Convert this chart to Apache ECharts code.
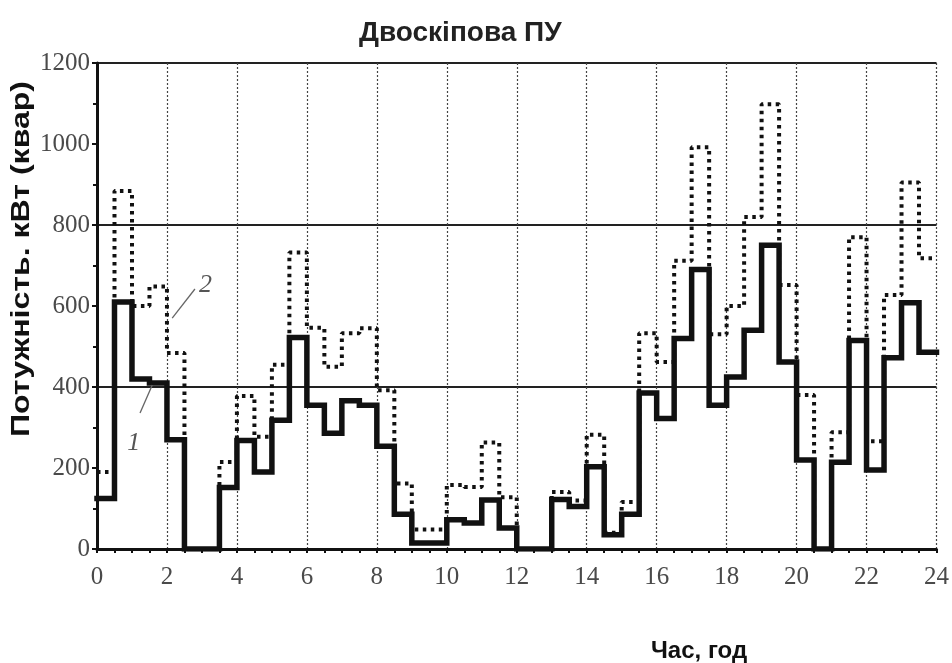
<!DOCTYPE html>
<html lang="uk">
<head>
<meta charset="UTF-8">
<title>Двоскіпова ПУ</title>
<script src="https://cdn.jsdelivr.net/npm/echarts@6/dist/echarts.min.js"></script>
<style>
  html, body { margin: 0; padding: 0; background: #fff; }
  #chart { width: 952px; height: 663px; }
</style>
</head>
<body>
<div id="chart"></div>
<script>
// half-hour breakpoints, hours
var hours = [0, 0.5, 1, 1.5, 2, 2.5, 3, 3.5, 4, 4.5, 5, 5.5, 6, 6.5, 7, 7.5,
  8, 8.5, 9, 9.5, 10, 10.5, 11, 11.5, 12, 12.5, 13, 13.5, 14, 14.5, 15, 15.5,
  16, 16.5, 17, 17.5, 18, 18.5, 19, 19.5, 20, 20.5, 21, 21.5, 22, 22.5, 23, 23.5, 24];

// curve 1 (solid), value held over each half hour
var curve1 = [125, 610, 420, 410, 270, 0, 0, 152, 268, 190, 318, 522,
  355, 286, 366, 355, 254, 86, 15, 15, 72, 64, 121, 52,
  0, 0, 122, 105, 203, 35, 86, 385, 322, 520, 690, 355,
  425, 540, 750, 462, 220, 0, 214, 515, 195, 472, 608, 486];

// curve 2 (dotted)
var curve2 = [190, 884, 600, 648, 484, 0, 0, 215, 378, 277, 455, 732,
  546, 450, 533, 545, 392, 162, 48, 48, 158, 153, 263, 128,
  0, 0, 141, 120, 282, 40, 116, 533, 462, 712, 992, 530,
  600, 820, 1098, 652, 380, 0, 288, 770, 266, 627, 905, 718];

var xTicks = [0, 2, 4, 6, 8, 10, 12, 14, 16, 18, 20, 22, 24];
var yTicks = [0, 200, 400, 600, 800, 1000, 1200];

// curve numbers with their leader lines (data coords)
var notes = [
  { text: '2', at: [3.1, 652], from: [2.15, 570], to: [2.8, 642] },
  { text: '1', at: [1.05, 262], from: [1.23, 336], to: [1.58, 405] }
];

var yName = 'Потужність. кВт (квар)';

function pairs(vals) {
  var out = [];
  for (var i = 0; i < vals.length; i++) out.push([hours[i], vals[i]]);
  out.push([hours[vals.length], vals[vals.length - 1]]);
  return out;
}

// natural width of a string in a given canvas font
function textWidth(str, font) {
  var ctx = document.createElement('canvas').getContext('2d');
  ctx.font = font;
  return ctx.measureText(str).width;
}

var chart = echarts.init(document.getElementById('chart'));

var tickFont = { fontFamily: 'Liberation Serif', fontSize: 25, color: '#4a4a4a' };

chart.setOption({
  backgroundColor: '#fff',
  animation: false,
  title: [{
    text: 'Двоскіпова ПУ',
    left: 354,
    top: 14,
    textStyle: { fontFamily: 'Liberation Sans', fontWeight: 'bold', fontSize: 28, color: '#222' }
  }, {
    text: 'Час, год',
    left: 646,
    top: 634,
    textStyle: { fontFamily: 'Liberation Sans', fontWeight: 'bold', fontSize: 24, color: '#111' }
  }],
  grid: { left: 97, right: 15, top: 63, bottom: 114 },
  xAxis: {
    type: 'value',
    min: 0,
    max: 24,
    interval: 2,
    axisLine: { lineStyle: { color: '#111', width: 3 } },
    axisTick: { show: true, length: 4, lineStyle: { color: '#111', width: 2 } },
    minorTick: { show: true, splitNumber: 4, length: 4, lineStyle: { color: '#111', width: 2 } },
    axisLabel: Object.assign({ margin: 16, customValues: xTicks, formatter: function (v) { return String(v); } }, tickFont),
    splitLine: { show: true, lineStyle: { color: '#444', width: 1.2, type: [2, 2] } }
  },
  yAxis: [{
    type: 'value',
    min: 0,
    max: 1200,
    interval: 200,
    axisLine: { show: true, lineStyle: { color: '#111', width: 3 } },
    axisTick: { show: true, length: 5, lineStyle: { color: '#111', width: 2 } },
    minorTick: { show: true, splitNumber: 2, length: 4, lineStyle: { color: '#111', width: 2 } },
    axisLabel: Object.assign({ margin: 7, customValues: yTicks, formatter: function (v) { return String(v); } }, tickFont),
    splitLine: { show: false }
  }, {
    // heavy horizontal rules every 400
    type: 'value',
    min: 0,
    max: 1200,
    interval: 400,
    position: 'left',
    axisLine: { show: false },
    axisTick: { show: false },
    axisLabel: { show: false },
    splitLine: { show: true, lineStyle: { color: '#222', width: 2 } }
  }],
  series: [{
    name: '2',
    type: 'line',
    step: 'end',
    data: pairs(curve2),
    symbol: 'none',
    lineStyle: { color: '#111', width: 4, type: [3.5, 4.5], cap: 'butt' },
    z: 3
  }, {
    name: '1',
    type: 'line',
    step: 'end',
    data: pairs(curve1),
    symbol: 'none',
    lineStyle: { color: '#111', width: 5.5, cap: 'square', join: 'miter' },
    z: 4
  }]
});

// rotated y-axis title, stretched along its length like the original
var yFont = 'bold 25px "Liberation Sans"';
var yScale = 356 / textWidth(yName, yFont);

var g = [{
  type: 'text',
  x: 22, y: 259,
  rotation: Math.PI / 2,
  scaleX: yScale,
  style: { text: yName, font: yFont, fill: '#111', align: 'center', verticalAlign: 'middle' }
}];

// place the curve numbers after the axes exist
notes.forEach(function (n) {
  var p = chart.convertToPixel({ gridIndex: 0 }, n.at);
  var a = chart.convertToPixel({ gridIndex: 0 }, n.from);
  var b = chart.convertToPixel({ gridIndex: 0 }, n.to);
  g.push({
    type: 'text', x: p[0], y: p[1], z: 10,
    style: { text: n.text, font: 'italic 26px "Liberation Serif"', fill: '#555', align: 'center', verticalAlign: 'middle' }
  });
  g.push({
    type: 'line', z: 10,
    shape: { x1: a[0], y1: a[1], x2: b[0], y2: b[1] },
    style: { stroke: '#666', lineWidth: 1.3 }
  });
});
chart.setOption({ graphic: g });
</script>
</body>
</html>
